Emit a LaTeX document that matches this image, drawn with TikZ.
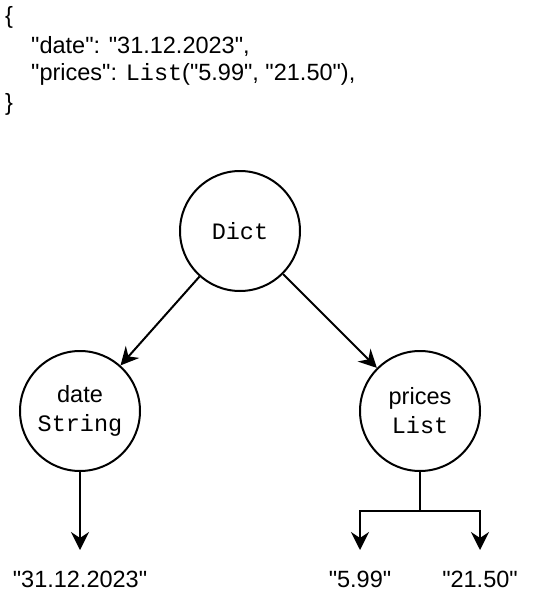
\documentclass[tikz,border=0pt]{standalone}
\usepackage{fontspec}
\newfontfamily\mainf{Liberation Sans}
\setmonofont{Liberation Mono}
\usetikzlibrary{arrows.meta}
\begin{document}
\begin{tikzpicture}[x=1pt,y=-1pt,
  every node/.style={font=\mainf\fontsize{23.5}{29}\selectfont},
  valnode/.style={circle,draw,line width=2pt,minimum size=120pt,inner sep=0pt,align=center},
  txt/.style={inner sep=0pt,anchor=base west},
  lbl/.style={inner sep=0pt},
  conn/.style={line width=2pt,-{Stealth[length=18pt,width=18pt,inset=6pt]}},
  plain/.style={line width=2pt}]
\useasboundingbox (0,0) rectangle (540,610);
\node[txt] (l1) at (5,24) {\{};
\node[txt] (l2) at (31,53) {"date": "31.12.2023",};
\node[txt] (l3) at (31,81) {"prices": \texttt{List}("5.99", "21.50"),};
\node[txt] (l4) at (5,110) {\}};
\node[valnode] (dict) at (240,231) {\texttt{Dict}};
\node[valnode] (date) at (80,411) {date\\\texttt{String}};
\node[valnode] (prices) at (420,411) {prices\\\texttt{List}};
\coordinate (t1) at (80,550);
\coordinate (j) at (420,511);
\coordinate (t2) at (360,550);
\coordinate (t3) at (480,550);
\node[lbl] (v1) at (80,579) {"31.12.2023"};
\node[lbl] (v2) at (360,579) {"5.99"};
\node[lbl] (v3) at (480,579) {"21.50"};
\draw[conn] (dict) -- (date);
\draw[conn] (dict) -- (prices);
\draw[conn] (date) -- (t1);
\draw[plain] (prices) -- (j);
\draw[conn] (j) -| (t2);
\draw[conn] (j) -| (t3);
\end{tikzpicture}
\end{document}
